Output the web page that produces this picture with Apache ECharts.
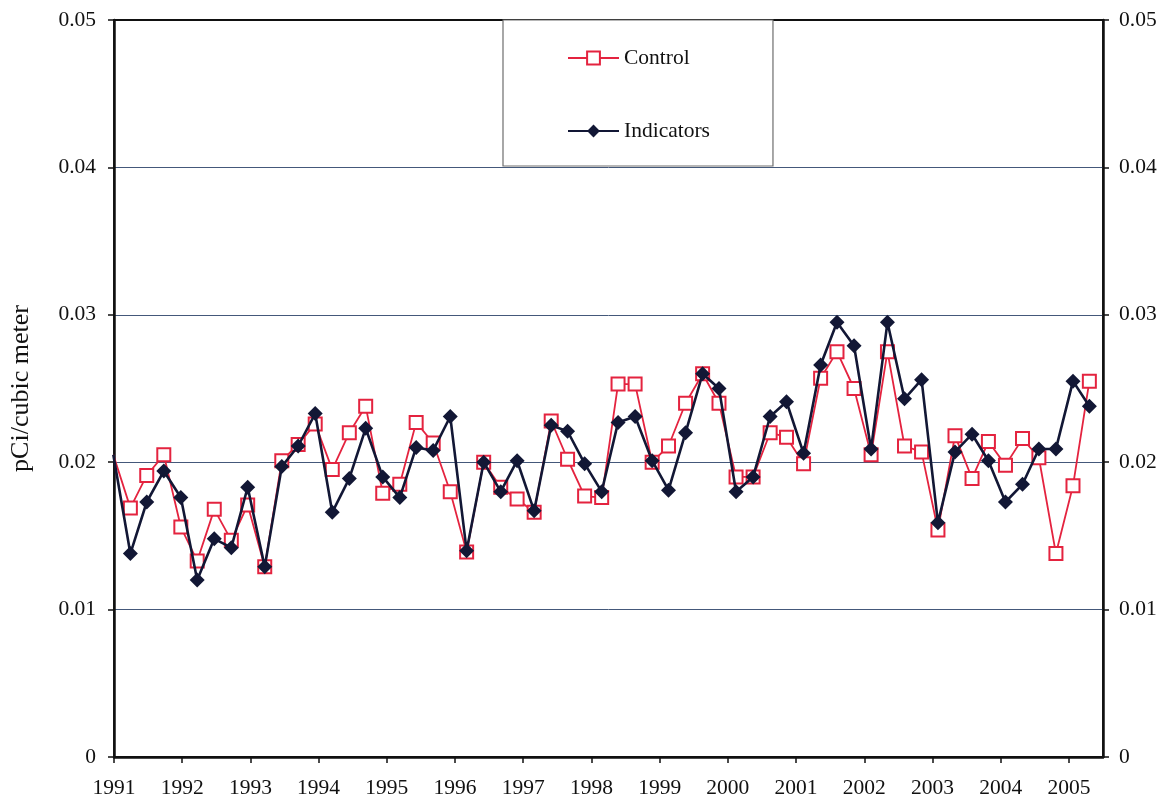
<!DOCTYPE html>
<html>
<head>
<meta charset="utf-8">
<title>pCi/cubic meter, 1991-2005</title>
<script src="https://cdn.jsdelivr.net/npm/echarts@6/dist/echarts.min.js"></script>
<style>
  html, body { margin: 0; padding: 0; background: #fff; }
  #chart { width: 1164px; height: 803px; }
</style>
</head>
<body>
<div id="chart"></div>
<script>
// Sampling dates as decimal years (about every 90 days)
const sampleDates = [
  1990.99, 1991.24, 1991.48, 1991.73, 1991.98, 1992.22, 1992.47, 1992.72, 1992.96, 1993.21,
  1993.46, 1993.70, 1993.95, 1994.20, 1994.45, 1994.69, 1994.94, 1995.19, 1995.43, 1995.68,
  1995.93, 1996.17, 1996.42, 1996.67, 1996.91, 1997.16, 1997.41, 1997.65, 1997.90, 1998.15,
  1998.39, 1998.64, 1998.89, 1999.13, 1999.38, 1999.63, 1999.87, 2000.12, 2000.37, 2000.62,
  2000.86, 2001.11, 2001.36, 2001.60, 2001.85, 2002.10, 2002.34, 2002.59, 2002.84, 2003.08,
  2003.33, 2003.58, 2003.82, 2004.07, 2004.32, 2004.56, 2004.81, 2005.06, 2005.30
];

// Control station concentrations (pCi/cubic meter)
const controlValues = [
  0.0205, 0.0169, 0.0191, 0.0205, 0.0156, 0.0133, 0.0168, 0.0147, 0.0171, 0.0129,
  0.0201, 0.0212, 0.0226, 0.0195, 0.0220, 0.0238, 0.0179, 0.0185, 0.0227, 0.0213,
  0.0180, 0.0139, 0.0200, 0.0183, 0.0175, 0.0166, 0.0228, 0.0202, 0.0177, 0.0176,
  0.0253, 0.0253, 0.0200, 0.0211, 0.0240, 0.0260, 0.0240, 0.0190, 0.0190, 0.0220,
  0.0217, 0.0199, 0.0257, 0.0275, 0.0250, 0.0205, 0.0275, 0.0211, 0.0207, 0.0154,
  0.0218, 0.0189, 0.0214, 0.0198, 0.0216, 0.0203, 0.0138, 0.0184, 0.0255
];

// Indicator station concentrations (pCi/cubic meter)
const indicatorValues = [
  0.0205, 0.0138, 0.0173, 0.0194, 0.0176, 0.0120, 0.0148, 0.0142, 0.0183, 0.0129,
  0.0197, 0.0211, 0.0233, 0.0166, 0.0189, 0.0223, 0.0190, 0.0176, 0.0210, 0.0208,
  0.0231, 0.0140, 0.0200, 0.0180, 0.0201, 0.0167, 0.0225, 0.0221, 0.0199, 0.0180,
  0.0227, 0.0231, 0.0201, 0.0181, 0.0220, 0.0260, 0.0250, 0.0180, 0.0190, 0.0231,
  0.0241, 0.0206, 0.0266, 0.0295, 0.0279, 0.0209, 0.0295, 0.0243, 0.0256, 0.0159,
  0.0207, 0.0219, 0.0201, 0.0173, 0.0185, 0.0209, 0.0209, 0.0255, 0.0238
];

// Year tick labels along the bottom axis
const yearTicks = [1991, 1992, 1993, 1994, 1995, 1996, 1997, 1998, 1999, 2000, 2001, 2002, 2003, 2004, 2005];

const seriesNames = ['Control', 'Indicators'];

const serif = '"Liberation Serif", "DejaVu Serif", serif';
const ink = '#111';

function pairs(xs, ys) {
  return xs.map((x, i) => [x, ys[i]]);
}

function concLabel(v) {
  return v === 0 ? '0' : v.toFixed(2);
}

const valueAxisBase = {
  type: 'value',
  min: 0,
  max: 0.05,
  interval: 0.01,
  axisLine: { show: true, lineStyle: { color: ink, width: 2.5 } },
  axisTick: { show: true, length: 6, lineStyle: { color: ink, width: 1.5 } },
  axisLabel: { fontFamily: serif, fontSize: 21.5, color: ink, formatter: concLabel }
};

const chart = echarts.init(document.getElementById('chart'), null, { renderer: 'canvas' });

chart.setOption({
  backgroundColor: '#fff',
  animation: false,
  grid: {
    left: 113, right: 61, top: 20, bottom: 46,
    show: true, borderColor: ink, borderWidth: 1.8, backgroundColor: 'transparent'
  },
  legend: {
    data: seriesNames,
    orient: 'vertical',
    left: 503,
    top: 20,
    itemWidth: 51,
    itemHeight: 16,
    itemGap: 51,
    padding: [27, 63, 24, 64],
    backgroundColor: '#fff',
    borderColor: '#6e6e6e',
    borderWidth: 1.2,
    borderRadius: 0,
    textStyle: { fontFamily: serif, fontSize: 21.5, color: ink }
  },
  xAxis: {
    type: 'value',
    min: 1991,
    max: 2005.5,
    interval: 1,
    splitLine: { show: false },
    axisLine: { show: true, onZero: false, lineStyle: { color: ink, width: 2.5 } },
    axisTick: { show: true, length: 6, customValues: yearTicks, lineStyle: { color: ink, width: 1.5 } },
    axisLabel: {
      customValues: yearTicks,
      fontFamily: serif, fontSize: 21.5, color: ink, margin: 20,
      formatter: v => String(Math.round(v))
    }
  },
  yAxis: [
    Object.assign({}, valueAxisBase, {
      position: 'left',
      name: 'pCi/cubic meter',
      nameLocation: 'middle',
      nameGap: 80,
      nameTextStyle: { fontFamily: serif, fontSize: 26, color: ink },
      axisLabel: Object.assign({}, valueAxisBase.axisLabel, { margin: 18 }),
      splitLine: { show: true, showMinLine: false, showMaxLine: false, lineStyle: { color: '#44587a', width: 1 } }
    }),
    Object.assign({}, valueAxisBase, {
      position: 'right',
      axisLabel: Object.assign({}, valueAxisBase.axisLabel, { margin: 16 }),
      splitLine: { show: false }
    })
  ],
  series: [
    {
      name: seriesNames[0],
      type: 'line',
      yAxisIndex: 0,
      data: pairs(sampleDates, controlValues),
      clip: true,
      symbol: 'emptyRect',
      symbolSize: 13,
      showAllSymbol: true,
      lineStyle: { color: '#e4233f', width: 1.8 },
      itemStyle: { color: '#e4233f', borderColor: '#e4233f', borderWidth: 2 },
      z: 2
    },
    {
      name: seriesNames[1],
      type: 'line',
      yAxisIndex: 0,
      data: pairs(sampleDates, indicatorValues),
      clip: true,
      symbol: 'diamond',
      symbolSize: 15,
      showAllSymbol: true,
      lineStyle: { color: '#121735', width: 2.6 },
      itemStyle: { color: '#121735' },
      z: 3
    }
  ]
});
</script>
</body>
</html>
